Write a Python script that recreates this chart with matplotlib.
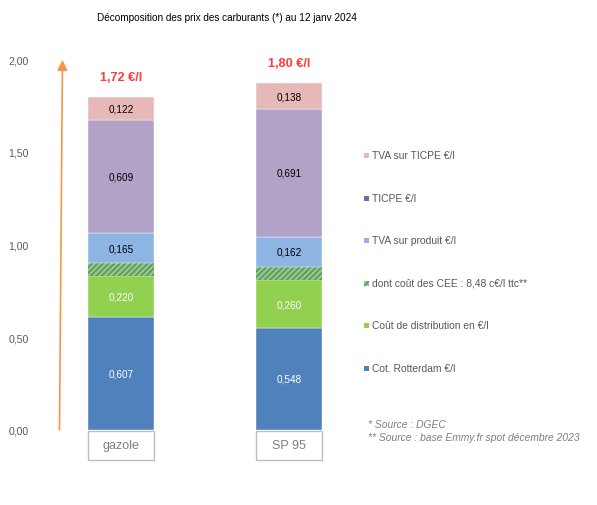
import numpy as np
import matplotlib
matplotlib.use('Agg')
import matplotlib.pyplot as plt
from matplotlib.patches import Rectangle

plt.rcParams['font.family'] = ['Liberation Sans', 'DejaVu Sans']
plt.rcParams['hatch.linewidth'] = 1.0

# donnees
categories = ['gazole', 'SP 95']
totals = ['1,72 €/l', '1,80 €/l']
rotterdam = [0.607, 0.548]
distribution = [0.220, 0.260]
cee = [0.0707, 0.0707]
tva_produit = [0.165, 0.162]
ticpe = [0.609, 0.691]
tva_ticpe = [0.122, 0.138]

series = [
    ('Cot. Rotterdam €/l', rotterdam, '#4F81BD', 'white', True),
    ('Coût de distribution en €/l', distribution, '#92D050', 'white', True),
    ('dont coût des CEE : 8,48 c€/l ttc**', cee, '#92D050', None, False),
    ('TVA sur produit €/l', tva_produit, '#8EB4E3', 'black', True),
    ('TICPE €/l', ticpe, '#B3A2C7', 'black', True),
    ('TVA sur TICPE €/l', tva_ticpe, '#E6B9B8', 'black', True),
]
legend_colors = ['#4F81BD', '#92D050', None, '#8EB4E3', '#8064A2', '#E6B9B8']
yticks = [0, 0.5, 1.0, 1.5, 2.0]

fig = plt.figure(figsize=(5.97, 5.06), dpi=100)
ax = fig.add_axes([40 / 597, (506 - 430.7) / 506, 300 / 597, 370.6 / 506])

x = np.arange(len(categories))
width = 0.395
bottom = np.zeros(len(categories))
for name, vals, color, tcol, show in series:
    vals = np.array(vals)
    if show:
        ax.bar(x, vals, width, bottom=bottom, color=color, edgecolor='white', linewidth=0.3)
        for xi, b, v in zip(x, bottom, vals):
            ax.text(xi, b + v / 2, ('%.3f' % v).replace('.', ','), ha='center', va='center',
                    fontsize=7.2, color=tcol)
    else:
        ax.bar(x, vals, width, bottom=bottom, color=color, edgecolor='#4F81BD',
               linewidth=0, hatch='//////')
    bottom += vals

for xi, b, t in zip(x, bottom, totals):
    ax.text(xi, b + 0.11, t, ha='center', va='center', fontsize=9.2, fontweight='bold',
            color='#FF3B3B')

# boites des categories
for xi, c in zip(x, categories):
    ax.add_patch(Rectangle((xi - width / 2, -0.005), width, -0.16, facecolor='white',
                           edgecolor='#BFBFBF', linewidth=1, clip_on=False))
    ax.text(xi, -0.085, c, ha='center', va='center', fontsize=9, color='#7F7F7F')

# fleche
ax.annotate('', xy=(-0.35, 2.01), xytext=(-0.368, -0.015),
            arrowprops=dict(arrowstyle='-|>,head_length=0.6,head_width=0.3',
                            color='#F79646', lw=1.2),
            annotation_clip=False)

ax.set_xlim((40 - 121.3) / 168, (340 - 121.3) / 168)
ax.set_ylim(0, 2.0)
ax.set_xticks([])
ax.set_yticks(yticks)
ax.set_yticklabels([('%.2f' % t).replace('.', ',') for t in yticks])
ax.tick_params(axis='y', length=0, pad=8, labelsize=7.6, labelcolor='#595959')
for s in ax.spines.values():
    s.set_visible(False)

fig.text(226.5 / 597, 1 - 18 / 506, 'Décomposition des prix des carburants (*) au 12 janv 2024',
         ha='center', va='center', fontsize=7.2, color='#000000')

# legende
leg_y = [369, 326, 284, 241, 199, 156]
for (name, vals, color, tcol, show), lc, ly in zip(series, legend_colors, leg_y):
    if lc is None:
        patch = Rectangle((364 / 597, 1 - (ly + 3) / 506), 5 / 597, 5 / 506,
                          transform=fig.transFigure, facecolor='#92D050',
                          edgecolor='#4F81BD', linewidth=0, hatch='//////')
    else:
        patch = Rectangle((364 / 597, 1 - (ly + 3) / 506), 5 / 597, 5 / 506,
                          transform=fig.transFigure, facecolor=lc, linewidth=0)
    fig.add_artist(patch)
    fig.text(372 / 597, 1 - ly / 506, name, ha='left', va='center', fontsize=7.4,
             color='#595959')

fig.text(368 / 597, 1 - 425 / 506, '* Source : DGEC', ha='left', va='center',
         fontsize=7.4, style='italic', color='#7F7F7F')
fig.text(368 / 597, 1 - 438 / 506, '** Source : base Emmy.fr spot décembre 2023', ha='left',
         va='center', fontsize=7.4, style='italic', color='#7F7F7F')

fig.savefig('out.png', dpi=100)
